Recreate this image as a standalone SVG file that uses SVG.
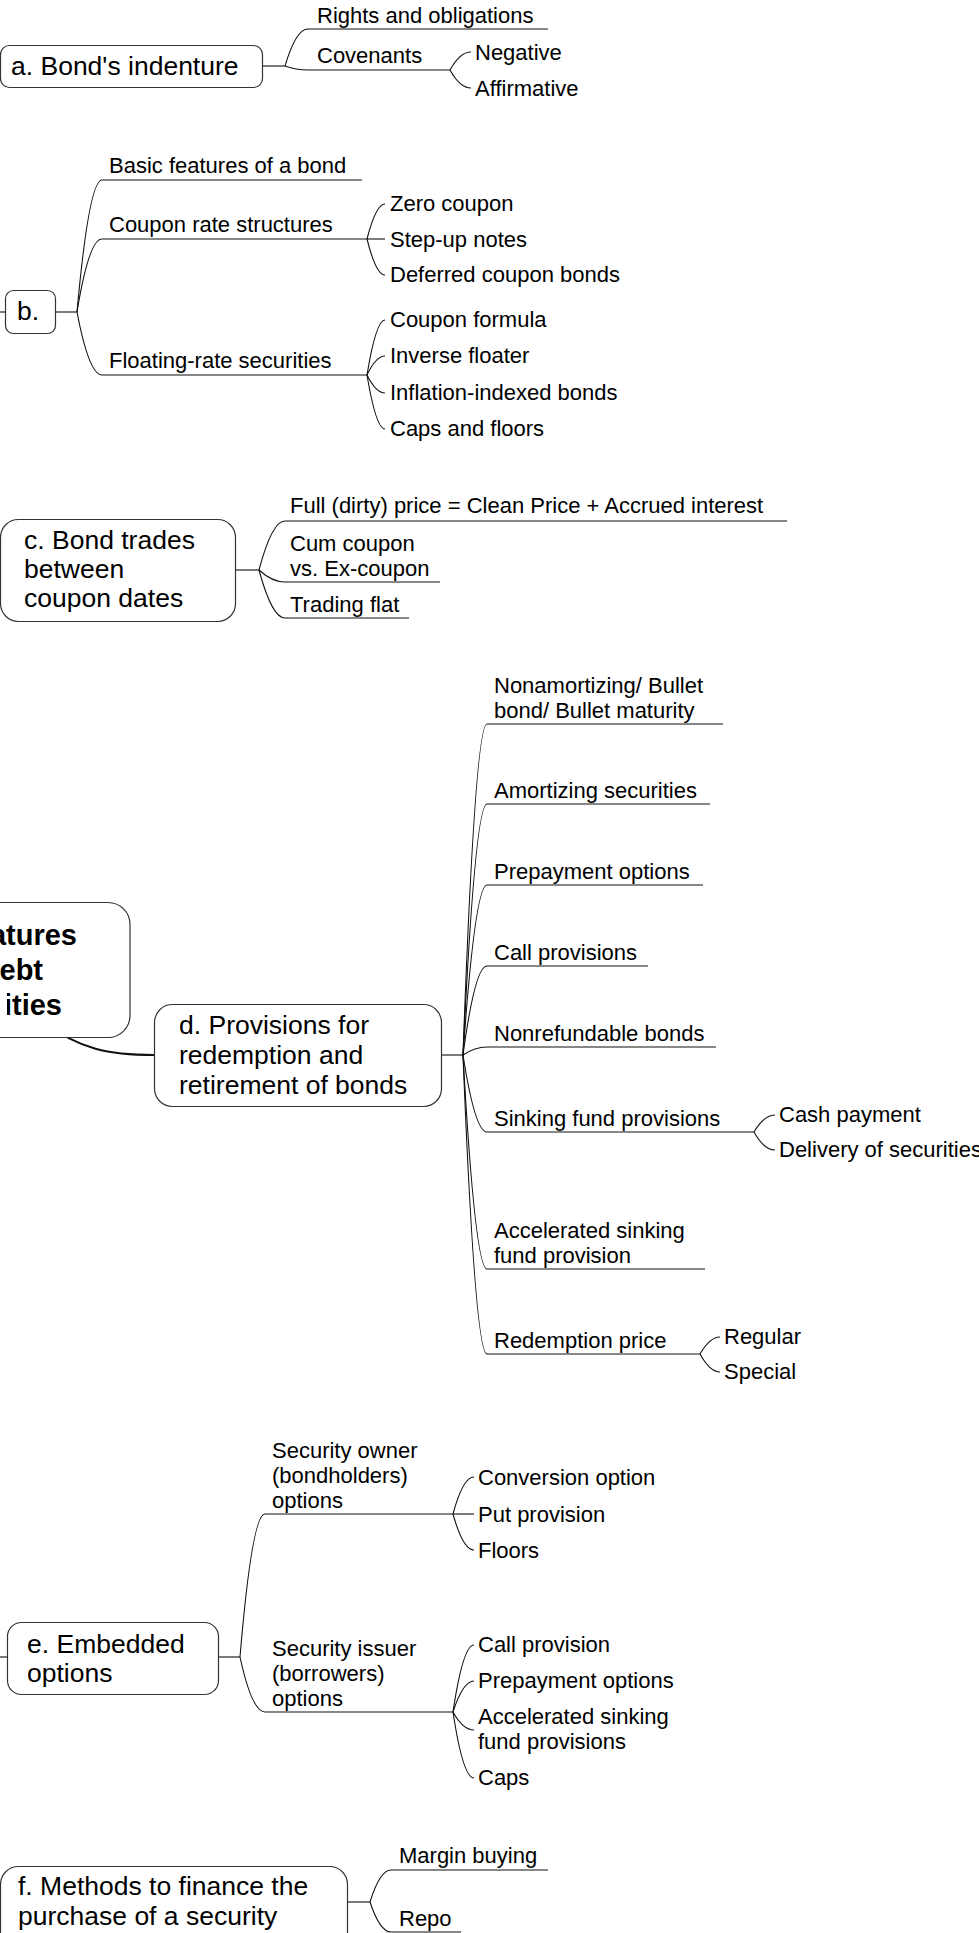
<svg xmlns="http://www.w3.org/2000/svg" width="979" height="1933" viewBox="0 0 979 1933">
  <style>
    text { font-family: "Liberation Sans", Arial, sans-serif; fill: #000; }
    .topic { font-size: 26.5px; }
    .root { font-size: 29px; font-weight: bold; text-anchor: end; }
    .leaf { font-size: 22px; }
    .box { fill: #fff; stroke: #333; stroke-width: 1.2; }
    .stem { fill: none; stroke: #7a7a7a; stroke-width: 2; }
    .branch { fill: none; stroke: #111; stroke-width: 1.1; }
    .main { fill: none; stroke: #111; stroke-width: 2; }
  </style>
  <defs>
    <!-- the central topic runs past the left edge; its last line is trimmed at the frame -->
    <clipPath id="root-line3">
      <rect x="7" y="990" width="130" height="40"/>
    </clipPath>
  </defs>

  <!-- connectors: stems from topic boxes, curved branches, underlines of sub-topics -->
  <g id="connectors">
    <!-- root to d -->
    <path class="main" d="M40,1020 C 80,1050 110,1055 154,1055"/>

    <!-- a -->
    <path class="stem" d="M263,66 H285"/>
    <path class="branch" d="M285,66 Q296,29 308,29 H548"/>
    <path class="branch" d="M285,66 Q296,70 308,70 H450"/>
    <path class="branch" d="M450,70 Q460,52 471,52"/>
    <path class="branch" d="M450,70 Q460,88 471,88"/>

    <!-- b -->
    <path class="stem" d="M0,312 H5"/>
    <path class="stem" d="M55,312 H77"/>
    <path class="branch" d="M77,312 Q89,180 102,180 H362"/>
    <path class="branch" d="M77,312 Q89,239 102,239 H367"/>
    <path class="branch" d="M77,312 Q89,375 102,375 H367"/>
    <path class="branch" d="M367,239 Q376,204 385,204"/>
    <path class="branch" d="M367,239 H385"/>
    <path class="branch" d="M367,239 Q376,275 385,275"/>
    <path class="branch" d="M367,375 Q376,320 385,320"/>
    <path class="branch" d="M367,375 Q376,356 385,356"/>
    <path class="branch" d="M367,375 Q376,393 385,393"/>
    <path class="branch" d="M367,375 Q376,429 385,429"/>

    <!-- c -->
    <path class="stem" d="M236,570 H259"/>
    <path class="branch" d="M259,570 Q272,521 285,521 H787"/>
    <path class="branch" d="M259,570 Q272,582 285,582 H440"/>
    <path class="branch" d="M259,570 Q272,618 285,618 H409"/>

    <!-- d -->
    <path class="stem" d="M442,1055 H463"/>
    <path class="branch" d="M463,1055 Q475,724 487,724 H723"/>
    <path class="branch" d="M463,1055 Q475,804 487,804 H710"/>
    <path class="branch" d="M463,1055 Q475,885 487,885 H703"/>
    <path class="branch" d="M463,1055 Q475,966 487,966 H648"/>
    <path class="branch" d="M463,1055 Q475,1047 487,1047 H716"/>
    <path class="branch" d="M463,1055 Q475,1132 487,1132 H754"/>
    <path class="branch" d="M463,1055 Q475,1269 487,1269 H705"/>
    <path class="branch" d="M463,1055 Q475,1354 487,1354 H700"/>
    <path class="branch" d="M754,1132 Q764,1115 775,1115"/>
    <path class="branch" d="M754,1132 Q764,1150 775,1150"/>
    <path class="branch" d="M700,1354 Q710,1337 720,1337"/>
    <path class="branch" d="M700,1354 Q710,1372 720,1372"/>

    <!-- e -->
    <path class="stem" d="M0,1657 H7"/>
    <path class="stem" d="M218,1657 H240"/>
    <path class="branch" d="M240,1657 Q252,1514 265,1514 H453"/>
    <path class="branch" d="M240,1657 Q252,1712 265,1712 H453"/>
    <path class="branch" d="M453,1514 Q463,1477 474,1477"/>
    <path class="branch" d="M453,1514 H474"/>
    <path class="branch" d="M453,1514 Q463,1550 474,1550"/>
    <path class="branch" d="M453,1712 Q463,1645 474,1645"/>
    <path class="branch" d="M453,1712 Q463,1681 474,1681"/>
    <path class="branch" d="M453,1712 Q463,1730 474,1730"/>
    <path class="branch" d="M453,1712 Q463,1778 474,1778"/>

    <!-- f -->
    <path class="stem" d="M348,1902 H370"/>
    <path class="branch" d="M370,1902 Q380,1870 391,1870 H548"/>
    <path class="branch" d="M370,1902 Q380,1932 391,1932 H461"/>
  </g>

  <!-- central topic, partly beyond the left edge -->
  <g id="root">
    <rect class="box" x="-144" y="902.5" width="274" height="135" rx="22"/>
    <text class="root" x="77" y="945">Features</text>
    <text class="root" x="43" y="980">of Debt</text>
    <text class="root" x="62" y="1015" clip-path="url(#root-line3)">Securities</text>
  </g>

  <g id="node-a">
    <rect class="box" x="0.5" y="45.5" width="262" height="42" rx="9"/>
    <text class="topic" x="11" y="75">a. Bond's indenture</text>
  </g>
  <g id="a-rights"><text class="leaf" x="317" y="23">Rights and obligations</text></g>
  <g id="a-covenants"><text class="leaf" x="317" y="63">Covenants</text></g>
  <g id="a-negative"><text class="leaf" x="475" y="60">Negative</text></g>
  <g id="a-affirmative"><text class="leaf" x="475" y="96">Affirmative</text></g>

  <g id="node-b">
    <rect class="box" x="5.5" y="290.5" width="50" height="43" rx="8"/>
    <text class="topic" x="17" y="320">b.</text>
  </g>
  <g id="b-basic"><text class="leaf" x="109" y="173">Basic features of a bond</text></g>
  <g id="b-coupon"><text class="leaf" x="109" y="232">Coupon rate structures</text></g>
  <g id="b-floating"><text class="leaf" x="109" y="368">Floating-rate securities</text></g>
  <g id="b-zero"><text class="leaf" x="390" y="211">Zero coupon</text></g>
  <g id="b-stepup"><text class="leaf" x="390" y="247">Step-up notes</text></g>
  <g id="b-deferred"><text class="leaf" x="390" y="282">Deferred coupon bonds</text></g>
  <g id="b-formula"><text class="leaf" x="390" y="327">Coupon formula</text></g>
  <g id="b-inverse"><text class="leaf" x="390" y="363">Inverse floater</text></g>
  <g id="b-inflation"><text class="leaf" x="390" y="400">Inflation-indexed bonds</text></g>
  <g id="b-caps"><text class="leaf" x="390" y="436">Caps and floors</text></g>

  <g id="node-c">
    <rect class="box" x="0.5" y="519.5" width="235" height="102" rx="18"/>
    <text class="topic" x="24" y="549">c. Bond trades</text>
    <text class="topic" x="24" y="578">between</text>
    <text class="topic" x="24" y="607">coupon dates</text>
  </g>
  <g id="c-full"><text class="leaf" x="290" y="513">Full (dirty) price = Clean Price + Accrued interest</text></g>
  <g id="c-cum">
    <text class="leaf" x="290" y="551">Cum coupon</text>
    <text class="leaf" x="290" y="576">vs. Ex-coupon</text>
  </g>
  <g id="c-flat"><text class="leaf" x="290" y="612">Trading flat</text></g>

  <g id="node-d">
    <rect class="box" x="154.5" y="1004.5" width="287" height="102" rx="18"/>
    <text class="topic" x="179" y="1034">d. Provisions for</text>
    <text class="topic" x="179" y="1064">redemption and</text>
    <text class="topic" x="179" y="1094">retirement of bonds</text>
  </g>
  <g id="d-bullet">
    <text class="leaf" x="494" y="693">Nonamortizing/ Bullet</text>
    <text class="leaf" x="494" y="718">bond/ Bullet maturity</text>
  </g>
  <g id="d-amortizing"><text class="leaf" x="494" y="798">Amortizing securities</text></g>
  <g id="d-prepayment"><text class="leaf" x="494" y="879">Prepayment options</text></g>
  <g id="d-call"><text class="leaf" x="494" y="960">Call provisions</text></g>
  <g id="d-nonrefundable"><text class="leaf" x="494" y="1041">Nonrefundable bonds</text></g>
  <g id="d-sinking"><text class="leaf" x="494" y="1126">Sinking fund provisions</text></g>
  <g id="d-cash"><text class="leaf" x="779" y="1122">Cash payment</text></g>
  <g id="d-delivery"><text class="leaf" x="779" y="1157">Delivery of securities</text></g>
  <g id="d-accelerated">
    <text class="leaf" x="494" y="1238">Accelerated sinking</text>
    <text class="leaf" x="494" y="1263">fund provision</text>
  </g>
  <g id="d-redemption"><text class="leaf" x="494" y="1348">Redemption price</text></g>
  <g id="d-regular"><text class="leaf" x="724" y="1344">Regular</text></g>
  <g id="d-special"><text class="leaf" x="724" y="1379">Special</text></g>

  <g id="node-e">
    <rect class="box" x="7.5" y="1622.5" width="211" height="72" rx="14"/>
    <text class="topic" x="27" y="1653">e. Embedded</text>
    <text class="topic" x="27" y="1682">options</text>
  </g>
  <g id="e-owner">
    <text class="leaf" x="272" y="1458">Security owner</text>
    <text class="leaf" x="272" y="1483">(bondholders)</text>
    <text class="leaf" x="272" y="1508">options</text>
  </g>
  <g id="e-issuer">
    <text class="leaf" x="272" y="1656">Security issuer</text>
    <text class="leaf" x="272" y="1681">(borrowers)</text>
    <text class="leaf" x="272" y="1706">options</text>
  </g>
  <g id="e-conversion"><text class="leaf" x="478" y="1485">Conversion option</text></g>
  <g id="e-put"><text class="leaf" x="478" y="1522">Put provision</text></g>
  <g id="e-floors"><text class="leaf" x="478" y="1558">Floors</text></g>
  <g id="e-call"><text class="leaf" x="478" y="1652">Call provision</text></g>
  <g id="e-prepayment"><text class="leaf" x="478" y="1688">Prepayment options</text></g>
  <g id="e-accelerated">
    <text class="leaf" x="478" y="1724">Accelerated sinking</text>
    <text class="leaf" x="478" y="1749">fund provisions</text>
  </g>
  <g id="e-caps"><text class="leaf" x="478" y="1785">Caps</text></g>

  <g id="node-f">
    <rect class="box" x="0.5" y="1866.5" width="347" height="100" rx="18"/>
    <text class="topic" x="18" y="1895">f. Methods to finance the</text>
    <text class="topic" x="18" y="1925">purchase of a security</text>
  </g>
  <g id="f-margin"><text class="leaf" x="399" y="1863">Margin buying</text></g>
  <g id="f-repo"><text class="leaf" x="399" y="1926">Repo</text></g>
</svg>
